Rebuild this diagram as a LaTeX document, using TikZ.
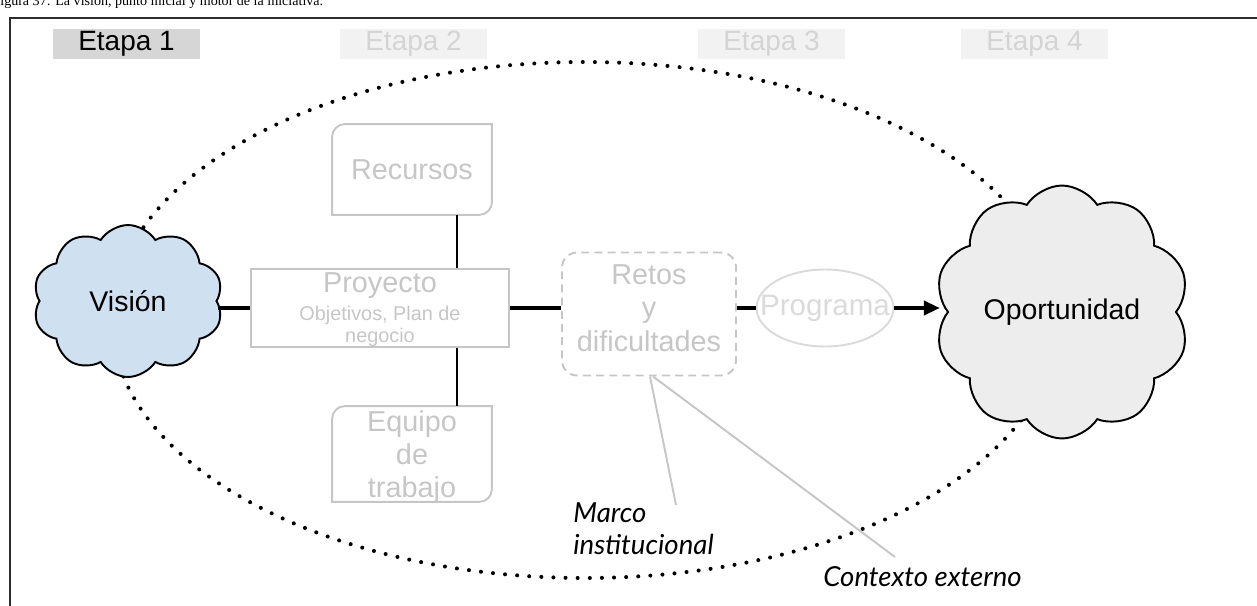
\documentclass[tikz,border=0pt]{standalone}
\usepackage{fontspec}
\setmainfont{Liberation Sans}
\newfontfamily\captionfont{Liberation Serif}
\newfontfamily\handfont{Lato}
\usetikzlibrary{shapes.symbols,shapes.geometric,arrows.meta,positioning}
\definecolor{visionblue}{RGB}{207,224,241}
\definecolor{oportgray}{RGB}{237,237,237}
\definecolor{etapagray}{RGB}{214,214,214}
\definecolor{etapafaint}{RGB}{242,242,242}
\definecolor{fainttext}{RGB}{212,212,212}
\definecolor{softgray}{RGB}{198,198,198}
\definecolor{palegray}{RGB}{218,218,218}
\definecolor{framegray}{RGB}{45,45,45}

\begin{document}
\begin{tikzpicture}[x=0.02cm, y=-0.02cm,
    stage/.style={rectangle, minimum width=2.94cm, minimum height=0.6cm,
                  inner sep=0pt, font=\fontsize{15.9}{18}\selectfont},
    cloudnode/.style={cloud, cloud puffs=10, cloud puff arc=115, cloud ignores aspect,
                      draw=black, line width=1.1pt, inner sep=0pt,
                      font=\fontsize{16.2}{19}\selectfont},
    pale/.style={rectangle, draw=softgray, line width=1.1pt, text=softgray, align=center,
                 inner sep=0pt, font=\fontsize{16.4}{18.9}\selectfont},
    link/.style={line width=1.8pt, black},
    stem/.style={line width=1.2pt, black},
    hint/.style={line width=1.1pt, softgray},
    dots/.style={line width=2.3pt, line cap=round, dash pattern=on 0pt off 6.9pt},
    hand/.style={anchor=west, align=left, inner sep=0pt,
                 font=\handfont\itshape\fontsize{15.7}{18}\selectfont}
]
    \useasboundingbox (0,0) rectangle (1257,605);
    \draw[framegray, line width=1.2pt] (10,18) rectangle (1300,650);
    \node[anchor=base west, inner sep=0pt, font=\captionfont\fontsize{8}{9}\selectfont]
        (caption) at (0,6) {igura 37: La visión, punto inicial y motor de la iniciativa.};

    % etapas
    \node[stage, fill=etapagray] (etapa1) at (126.5,44) {Etapa 1};
    \foreach \k/\x in {2/413.5,3/771.5,4/1034.5}
        \node[stage, fill=etapafaint, text=fainttext] (etapa\k) at (\x,44) {Etapa \k};

    % frontera punteada
    \draw[dots] (585,320) ellipse [x radius=473, y radius=258];

    \node[cloudnode, fill=visionblue, minimum width=3.8cm, minimum height=3.04cm]
        (vision) at (128,301) {Visión};
    \node[cloudnode, fill=oportgray, minimum width=5.1cm, minimum height=5.06cm]
        (oport) at (1062,312) {Oportunidad};

    \node[pale, minimum width=5.16cm, minimum height=1.56cm, text depth=-0.08cm,
          font=\fontsize{11.3}{13}\selectfont] (proyecto) at (380,308)
        {{\fontsize{16.4}{18.9}\selectfont Proyecto}\\[2.5pt]Objetivos, Plan de\\negocio};
    \node[pale, draw=none, minimum width=3.16cm, minimum height=1.78cm] (recursos) at (412,169.5) {Recursos};
    \node[pale, draw=none, minimum width=3.16cm, minimum height=1.88cm, text depth=-0.08cm]
        (equipo) at (412,454) {Equipo\\de\\trabajo};
    \foreach \b in {recursos,equipo}
        \draw[hint] ([yshift=-0.26cm]\b.north west) arc[start angle=180, end angle=90, radius=0.26cm]
            -- (\b.north east) -- ([yshift=0.26cm]\b.south east)
            arc[start angle=0, end angle=-90, radius=0.26cm] -- (\b.south west) -- cycle;
    \node[pale, dashed, dash pattern=on 4.5pt off 3pt, rounded corners=0.3cm, text depth=0.24cm,
          minimum width=3.48cm, minimum height=2.46cm] (retos) at (649,314) {Retos\\y\\dificultades};
    \node[ellipse, draw=palegray, line width=1.1pt, minimum width=2.74cm, minimum height=1.54cm,
          label={[name=programa-text, text=palegray, font=\fontsize{16.8}{19}\selectfont]center:Programa}]
        (programa) at (825,308) {};

    % conexiones
    \draw[link] (vision.east |- proyecto.west) -- (proyecto.west);
    \draw[link] (proyecto.east) -- (proyecto.east -| retos.west);
    \draw[link] (retos.east |- programa.west) -- (programa.west);
    \draw[link, -{Triangle[length=9pt, width=8pt]}] (programa.east) -- ([xshift=-4pt]programa.east -| oport.west);
    \draw[stem] ([xshift=0.9cm]recursos.south) -- ([xshift=0.9cm]recursos.south |- proyecto.north);
    \draw[stem] ([xshift=0.9cm]equipo.north |- proyecto.south) -- ([xshift=0.9cm]equipo.north);

    % entorno
    \node[hand] (marco) at (573,529) {Marco\\institucional};
    \node[hand] (contexto) at (823,577) {Contexto externo};
    \coordinate (marcotip) at (676,505);
    \coordinate (contextotip) at (895,557);
    \draw[hint] ([xshift=0.02cm]retos.south) -- (marcotip);
    \draw[hint] ([xshift=0.08cm]retos.south) -- (contextotip);
\end{tikzpicture}
\end{document}
